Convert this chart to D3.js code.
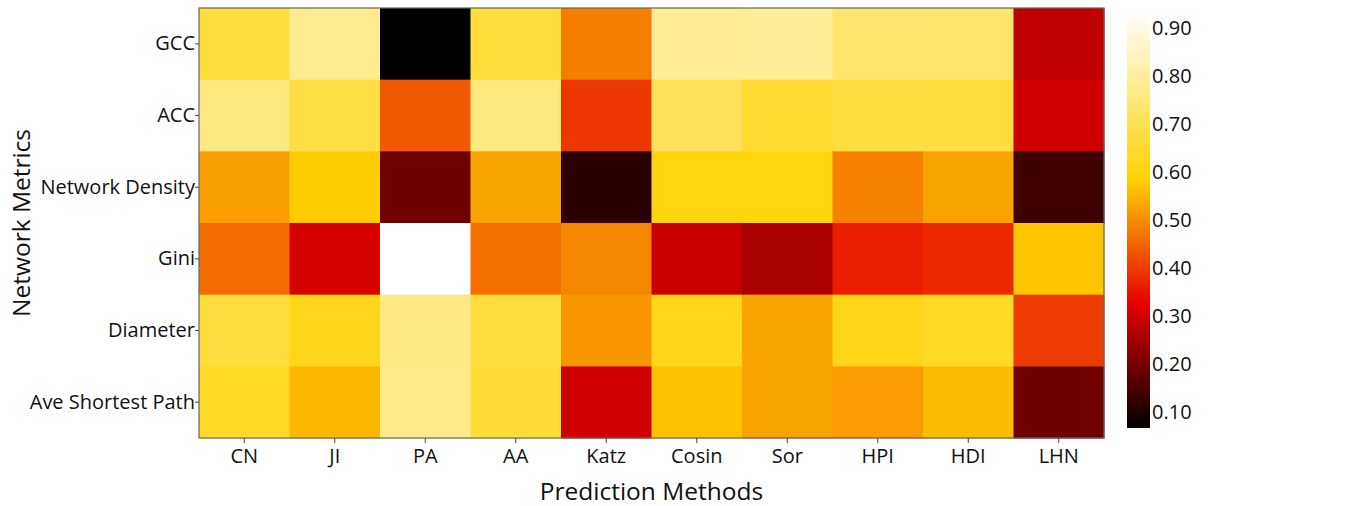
<!DOCTYPE html>
<html>
<head>
<meta charset="utf-8">
<script src="https://cdn.jsdelivr.net/npm/d3@7"></script>
<style>
  body { margin: 0; background: #fff; }
  text { font-family: "Open Sans", sans-serif; fill: #111; }
</style>
</head>
<body>
<div id="chart"></div>
<script>
// data
const methods = ["CN", "JI", "PA", "AA", "Katz", "Cosin", "Sor", "HPI", "HDI", "LHN"];
const metrics = ["GCC", "ACC", "Network Density", "Gini", "Diameter", "Ave Shortest Path"];

const gccVals      = [0.667, 0.781, 0.067, 0.667, 0.480, 0.788, 0.790, 0.735, 0.730, 0.281];
const accVals      = [0.755, 0.680, 0.437, 0.755, 0.394, 0.707, 0.653, 0.673, 0.670, 0.303];
const densityVals  = [0.524, 0.579, 0.193, 0.527, 0.114, 0.606, 0.605, 0.487, 0.527, 0.137];
const giniVals     = [0.459, 0.309, 0.931, 0.464, 0.493, 0.292, 0.259, 0.363, 0.376, 0.571];
const diameterVals = [0.673, 0.619, 0.761, 0.673, 0.511, 0.619, 0.527, 0.615, 0.639, 0.400];
const aspVals      = [0.639, 0.554, 0.775, 0.660, 0.303, 0.567, 0.527, 0.520, 0.558, 0.193];

const rows = [gccVals, accVals, densityVals, giniVals, diameterVals, aspVals];
const colorTicks = [0.1, 0.2, 0.3, 0.4, 0.5, 0.6, 0.7, 0.8, 0.9];

const W = 1362, H = 506;
const margin = { top: 8, right: 258, bottom: 68, left: 199 };
const width = W - margin.left - margin.right,
      height = H - margin.top - margin.bottom;

const zmin = d3.min(rows, r => d3.min(r)), zmax = d3.max(rows, r => d3.max(r));

// "hot" colour scale: black -> red -> yellow -> white
const hot = d3.scaleLinear()
  .domain([0, 0.3, 0.6, 1].map(t => zmin + t * (zmax - zmin)))
  .range(["rgb(0,0,0)", "rgb(230,0,0)", "rgb(255,210,0)", "rgb(255,255,255)"])
  .interpolate(d3.interpolateRgb)
  .clamp(true);

const cells = [];
rows.forEach((r, i) => r.forEach((v, j) => cells.push({ metric: metrics[i], method: methods[j], value: v })));

const svg = d3.select("#chart").append("svg")
  .attr("width", W).attr("height", H);

const g = svg.append("g")
  .attr("transform", `translate(${margin.left},${margin.top})`);

const x = d3.scaleBand().domain(methods).range([0, width]);
const y = d3.scaleBand().domain(metrics).range([0, height]);

g.selectAll("rect.cell")
  .data(cells)
  .join("rect")
  .attr("class", "cell")
  .attr("x", d => x(d.method))
  .attr("y", d => y(d.metric))
  .attr("width", x.bandwidth() + 0.5)
  .attr("height", y.bandwidth() + 0.5)
  .attr("fill", d => hot(d.value));

// frame
g.append("rect")
  .attr("width", width).attr("height", height)
  .attr("fill", "none").attr("stroke", "#666").attr("stroke-width", 1.2);

const xAxis = g.append("g")
  .attr("transform", `translate(0,${height})`)
  .call(d3.axisBottom(x).tickSize(5).tickPadding(6));
const yAxis = g.append("g")
  .call(d3.axisLeft(y).tickSize(4).tickPadding(0));

[xAxis, yAxis].forEach(a => {
  a.select(".domain").remove();
  a.selectAll(".tick line").attr("stroke", "#444");
  a.selectAll(".tick text").attr("font-family", "Open Sans, sans-serif").attr("fill", "#111");
});
xAxis.selectAll(".tick text").attr("font-size", 20);
yAxis.selectAll(".tick text").attr("font-size", 20);

svg.append("text")
  .attr("x", margin.left + width / 2)
  .attr("y", 500)
  .attr("text-anchor", "middle")
  .attr("font-size", 24.5)
  .text("Prediction Methods");

svg.append("text")
  .attr("transform", `translate(30,${margin.top + height / 2}) rotate(-90)`)
  .attr("text-anchor", "middle")
  .attr("font-size", 24.5)
  .text("Network Metrics");

// colour bar
const cbX = 1127, cbW = 23, cbTop = 13, cbBottom = 428;
const cScale = d3.scaleLinear().domain([zmin, zmax]).range([cbBottom, cbTop]);

const grad = svg.append("defs").append("linearGradient")
  .attr("id", "cbgrad")
  .attr("x1", 0).attr("x2", 0).attr("y1", 1).attr("y2", 0);
d3.range(0, 1.0001, 0.05).forEach(t => {
  grad.append("stop")
    .attr("offset", t)
    .attr("stop-color", hot(zmin + t * (zmax - zmin)));
});

svg.append("rect")
  .attr("x", cbX).attr("y", cbTop)
  .attr("width", cbW).attr("height", cbBottom - cbTop)
  .attr("fill", "url(#cbgrad)");

const cAxis = svg.append("g")
  .attr("transform", `translate(${cbX + cbW},0)`)
  .call(d3.axisRight(cScale).tickValues(colorTicks).tickFormat(d3.format(".2f")).tickSize(0).tickPadding(2));
cAxis.select(".domain").remove();
cAxis.selectAll(".tick text").attr("font-size", 20).attr("font-family", "Open Sans, sans-serif").attr("fill", "#111");
</script>
</body>
</html>
